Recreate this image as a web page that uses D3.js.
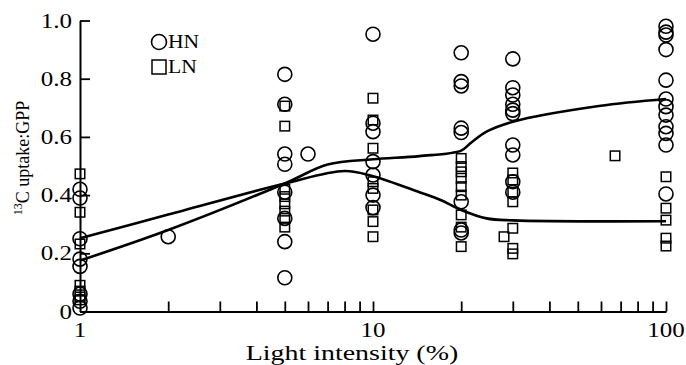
<!DOCTYPE html>
<html>
<head>
<meta charset="utf-8">
<script src="https://cdn.jsdelivr.net/npm/d3@7"></script>
<style>
  body { margin: 0; background: #fff; }
  text { font-family: "Liberation Serif", "Times New Roman", serif; fill: #000; }
</style>
</head>
<body>
<div id="vis"></div>
<script>
// HN (circles) and LN (squares): light intensity (%) and 13C uptake:GPP
var hnLight = [1, 1, 1, 1, 1, 1, 1, 1,
  2,
  5, 5, 5, 5, 5, 5, 5, 5,
  6,
  10, 10, 10, 10, 10, 10, 10,
  20, 20, 20, 20, 20, 20, 20, 20,
  30, 30, 30, 30, 30, 30, 30, 30, 30, 30,
  100, 100, 100, 100, 100, 100, 100, 100, 100, 100, 100, 100];
var hnRatio = [0.42, 0.39, 0.25, 0.18, 0.155, 0.06, 0.035, 0.012,
  0.257,
  0.815, 0.712, 0.541, 0.506, 0.41, 0.32, 0.24, 0.116,
  0.541,
  0.953, 0.647, 0.618, 0.515, 0.469, 0.40, 0.357,
  0.889, 0.79, 0.775, 0.63, 0.615, 0.377, 0.28, 0.27,
  0.868, 0.769, 0.744, 0.712, 0.692, 0.68, 0.572, 0.538, 0.446, 0.41,
  0.98, 0.96, 0.95, 0.90, 0.795, 0.73, 0.704, 0.675, 0.635, 0.612, 0.572, 0.404];

var lnLight = [1, 1, 1, 1, 1, 1, 1,
  5, 5, 5, 5, 5, 5, 5, 5,
  10, 10, 10, 10, 10, 10, 10, 10,
  20, 20, 20, 20, 20, 20, 20, 20, 20,
  28, 30, 30, 30, 30, 30, 30, 30,
  67,
  100, 100, 100, 100, 100];
var lnRatio = [0.473, 0.341, 0.232, 0.09, 0.07, 0.05, 0.04,
  0.706, 0.637, 0.42, 0.395, 0.37, 0.345, 0.32, 0.29,
  0.733, 0.658, 0.561, 0.446, 0.423, 0.349, 0.309, 0.257,
  0.526, 0.498, 0.48, 0.458, 0.429, 0.40, 0.332, 0.29, 0.223,
  0.257, 0.476, 0.452, 0.41, 0.377, 0.286, 0.217, 0.198,
  0.535,
  0.463, 0.355, 0.314, 0.252, 0.225];

// fitted curves
var hnCurveLight = [1, 2, 5, 7, 10, 14.4, 20, 21.5, 24.4, 30, 59, 100];
var hnCurveRatio = [0.175, 0.28, 0.44, 0.505, 0.523, 0.534, 0.553, 0.578, 0.618, 0.652, 0.706, 0.73];
var lnCurveLight = [1, 2, 5, 8, 10, 14.4, 17, 20, 24.4, 30, 100];
var lnCurveRatio = [0.252, 0.333, 0.44, 0.483, 0.465, 0.41, 0.383, 0.349, 0.32, 0.313, 0.31];

var yTicks = [0, 0.2, 0.4, 0.6, 0.8, 1.0];
var yTickLabels = ["0", "0.2", "0.4", "0.6", "0.8", "1.0"];
var xTickValues = [2, 3, 4, 5, 6, 7, 8, 9, 10, 20, 30, 40, 50, 60, 70, 80, 90, 100];
var xTickLabels = [1, 10, 100];

var W = 686, H = 365;
var stretch = 1.25; // glyphs in the figure are wider than they are tall
var svg = d3.select("#vis").append("svg")
    .attr("width", W)
    .attr("height", H);
svg.append("rect").attr("width", W).attr("height", H).attr("fill", "#fff");

var x = d3.scaleLog().domain([1, 100]).range([80, 666]);
var y = d3.scaleLinear().domain([0, 1]).range([311.5, 20.5]);

// X axis: ticks pointing inward (up)
var xAxis = svg.append("g")
    .attr("transform", "translate(0," + y(0) + ")")
    .call(d3.axisBottom(x).tickValues(xTickValues).tickSize(-10).tickSizeOuter(0).tickFormat(""));
xAxis.select(".domain").attr("stroke-width", 2);
xAxis.selectAll(".tick line").attr("stroke-width", 1.8);

svg.selectAll(".xlab")
    .data(xTickLabels)
    .enter().append("text")
    .attr("class", "xlab")
    .attr("transform", function(d) { return "translate(" + x(d) + ",337) scale(" + stretch + ",1)"; })
    .attr("text-anchor", "middle")
    .style("font-size", "20px")
    .text(function(d) { return d; });

svg.append("text")
    .attr("transform", "translate(352,360) scale(1.33,1)")
    .attr("text-anchor", "middle")
    .style("font-size", "21px")
    .text("Light intensity (%)");

// Y axis: ticks pointing inward (right)
var yAxis = svg.append("g")
    .attr("transform", "translate(" + x(1) + ",0)")
    .call(d3.axisLeft(y).tickValues(yTicks).tickSize(-10).tickSizeOuter(0).tickFormat(""));
yAxis.select(".domain").attr("stroke-width", 2);
yAxis.selectAll(".tick line").attr("stroke-width", 1.8);

svg.selectAll(".ylab")
    .data(yTicks)
    .enter().append("text")
    .attr("class", "ylab")
    .attr("transform", function(d) { return "translate(72," + y(d) + ") scale(" + stretch + ",1)"; })
    .attr("dy", "0.35em")
    .attr("text-anchor", "end")
    .style("font-size", "20px")
    .text(function(d, i) { return yTickLabels[i]; });

var ylabel = svg.append("text")
    .attr("transform", "translate(29,158) rotate(-90)")
    .attr("text-anchor", "middle")
    .style("font-size", "18px");
ylabel.append("tspan").attr("baseline-shift", "super").style("font-size", "12px").text("13");
ylabel.append("tspan").text("C uptake:GPP");

// curves
var line = d3.line()
    .x(function(d) { return x(d[0]); })
    .y(function(d) { return y(d[1]); })
    .curve(d3.curveCatmullRom.alpha(0.5));

[[hnCurveLight, hnCurveRatio], [lnCurveLight, lnCurveRatio]].forEach(function(s) {
    svg.append("path")
        .datum(d3.zip(s[0], s[1]))
        .attr("d", line)
        .attr("fill", "none")
        .attr("stroke", "#000")
        .attr("stroke-width", 2.6);
});

// points
svg.selectAll(".hn")
    .data(d3.zip(hnLight, hnRatio))
    .enter().append("circle")
    .attr("class", "hn")
    .attr("cx", function(d) { return x(d[0]); })
    .attr("cy", function(d) { return y(d[1]); })
    .attr("r", 7)
    .attr("fill", "none")
    .attr("stroke", "#000")
    .attr("stroke-width", 1.6);

var sq = 9.5;
svg.selectAll(".ln")
    .data(d3.zip(lnLight, lnRatio))
    .enter().append("rect")
    .attr("class", "ln")
    .attr("x", function(d) { return x(d[0]) - sq / 2; })
    .attr("y", function(d) { return y(d[1]) - sq / 2; })
    .attr("width", sq)
    .attr("height", sq)
    .attr("fill", "none")
    .attr("stroke", "#000")
    .attr("stroke-width", 1.5);

// legend
var legend = svg.append("g").attr("transform", "translate(159,0)");
legend.append("circle")
    .attr("cx", 0).attr("cy", 42).attr("r", 7.5)
    .attr("fill", "none").attr("stroke", "#000").attr("stroke-width", 1.6);
legend.append("rect")
    .attr("x", -7).attr("y", 67 - 7).attr("width", 14).attr("height", 14)
    .attr("fill", "none").attr("stroke", "#000").attr("stroke-width", 1.5);
legend.selectAll("text")
    .data(["HN", "LN"])
    .enter().append("text")
    .attr("transform", function(d, i) { return "translate(9," + (42 + i * 25) + ") scale(1.2,1)"; })
    .attr("dy", "0.35em")
    .style("font-size", "18px")
    .text(function(d) { return d; });
</script>
</body>
</html>
